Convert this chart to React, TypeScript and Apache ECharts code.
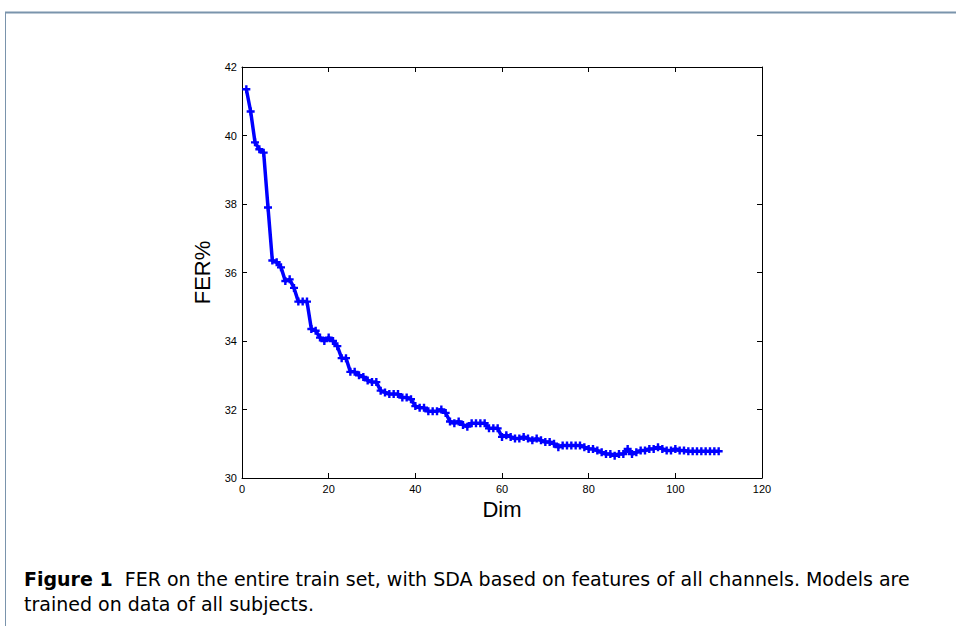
import React, { useEffect, useRef } from "react";
import * as echarts from "echarts";

const dims: number[] = Array.from({ length: 110 }, (_, i) => i + 1);
const fer: number[] = [
  41.35, 40.7, 39.8, 39.6, 39.5, 37.9, 36.35, 36.3, 36.15, 35.75,
  35.8, 35.55, 35.15, 35.15, 35.15, 34.35, 34.3, 34.1, 34.0, 34.1,
  34.0, 33.85, 33.5, 33.5, 33.1, 33.1, 33.0, 32.95, 32.85, 32.8,
  32.8, 32.55, 32.5, 32.45, 32.45, 32.45, 32.35, 32.35, 32.3, 32.1,
  32.05, 32.05, 31.95, 31.95, 31.95, 32.0, 31.9, 31.65, 31.6, 31.65,
  31.55, 31.5, 31.6, 31.6, 31.6, 31.6, 31.45, 31.45, 31.45, 31.2,
  31.25, 31.2, 31.15, 31.15, 31.2, 31.15, 31.1, 31.15, 31.1, 31.05,
  31.05, 31.0, 30.9, 30.95, 30.95, 30.95, 30.95, 30.95, 30.9, 30.85,
  30.85, 30.8, 30.75, 30.7, 30.7, 30.65, 30.7, 30.7, 30.85, 30.7,
  30.75, 30.8, 30.8, 30.85, 30.85, 30.9, 30.85, 30.8, 30.8, 30.85,
  30.8, 30.8, 30.78, 30.78, 30.78, 30.78, 30.78, 30.78, 30.78, 30.78,
];
const xTicks = { min: 0, max: 120, interval: 20 };
const yTicks = { min: 30, max: 42, interval: 2 };
const xTitle = "Dim";
const yTitle = "FER%";
const captionBold = "Figure 1";
const captionLine1 = "FER on the entire train set, with SDA based on features of all channels. Models are";
const captionLine2 = "trained on data of all subjects.";

const PLUS = "path://M3.5,0 L6.5,0 L6.5,3.5 L10,3.5 L10,6.5 L6.5,6.5 L6.5,10 L3.5,10 L3.5,6.5 L0,6.5 L0,3.5 L3.5,3.5 Z";

export default function App() {
  const ref = useRef<HTMLDivElement>(null);
  useEffect(() => {
    if (!ref.current) return;
    const chart = echarts.init(ref.current, null, { renderer: "svg" });
    const font = "'Liberation Sans', Arial, sans-serif";
    const capFont = "'DejaVu Sans', sans-serif";
    const line = { show: true, onZero: false, lineStyle: { color: "#000", width: 1 } };
    const tick = { show: true, inside: true, length: 5, lineStyle: { color: "#000", width: 1 } };
    chart.setOption({
      animation: false,
      backgroundColor: "#fff",
      grid: { left: 242, top: 67, width: 520, height: 411, show: false },
      xAxis: [
        {
          type: "value", min: xTicks.min, max: xTicks.max, interval: xTicks.interval, position: "bottom",
          axisLine: line, axisTick: tick, splitLine: { show: false },
          axisLabel: { color: "#000", fontSize: 11, fontFamily: font, margin: 5 },
          name: xTitle, nameLocation: "middle", nameGap: 20,
          nameTextStyle: { color: "#000", fontSize: 22, fontFamily: font },
        },
        {
          type: "value", min: xTicks.min, max: xTicks.max, interval: xTicks.interval, position: "top",
          axisLine: line, axisTick: tick, splitLine: { show: false },
          axisLabel: { show: false },
        },
      ],
      yAxis: [
        {
          type: "value", min: yTicks.min, max: yTicks.max, interval: yTicks.interval, position: "left",
          axisLine: line, axisTick: tick, splitLine: { show: false },
          axisLabel: { color: "#000", fontSize: 11, fontFamily: font, margin: 5 },
          name: yTitle, nameLocation: "middle", nameGap: 27,
          nameTextStyle: { color: "#000", fontSize: 22, fontFamily: font },
        },
        {
          type: "value", min: yTicks.min, max: yTicks.max, interval: yTicks.interval, position: "right",
          axisLine: line, axisTick: tick, splitLine: { show: false },
          axisLabel: { show: false },
        },
      ],
      series: [
        {
          type: "line",
          data: dims.map((d, i) => [d, fer[i]]),
          lineStyle: { color: "#0000ff", width: 3.5 },
          itemStyle: { color: "#0000ff" },
          symbol: PLUS,
          symbolSize: 8,
          showSymbol: true,
          z: 3,
        },
      ],
      graphic: [
        { type: "line", shape: { x1: 5, y1: 12.5, x2: 956, y2: 12.5 }, style: { stroke: "#7a94ac", lineWidth: 2 } },
        { type: "line", shape: { x1: 5.5, y1: 12, x2: 5.5, y2: 626 }, style: { stroke: "#7a94ac", lineWidth: 1 } },
        {
          type: "text", left: 24, top: 569,
          style: {
            text: "{b|" + captionBold + "}  " + captionLine1,
            font: "19px " + capFont, fill: "#000",
            rich: { b: { fontWeight: "bold", fontSize: 19, fontFamily: capFont, fill: "#000" } },
          },
        },
        {
          type: "text", left: 24, top: 594,
          style: { text: captionLine2, font: "19px " + capFont, fill: "#000" },
        },
      ],
    });
    return () => chart.dispose();
  }, []);
  return (
    <div style={{ position: "absolute", left: 0, top: 0, width: 956, height: 626 }}>
      <div ref={ref} style={{ width: 956, height: 626 }} />
    </div>
  );
}
